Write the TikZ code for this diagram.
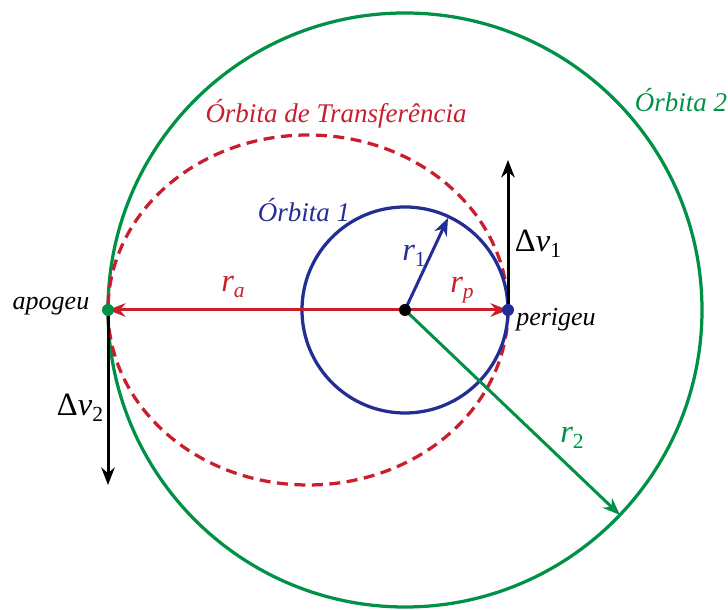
\documentclass[tikz,border=0pt]{standalone}
\usepackage{fontspec}
\setmainfont{Liberation Serif}
\usetikzlibrary{arrows.meta,calc}
\definecolor{orbgreen}{RGB}{0,145,70}
\definecolor{orbred}{RGB}{200,30,45}
\definecolor{orbblue}{RGB}{35,45,150}
\newcommand{\idx}[1]{\raisebox{-0.4ex}{\fontsize{8.6}{9}\selectfont #1}}

\begin{document}
\begin{tikzpicture}[>={Stealth[length=7pt,width=5.4pt]}, line cap=round, line join=round, x=0.4pt, y=-0.4pt]
\tikzset{
  orb1/.style={orbblue, line width=1.3pt},
  orb2/.style={orbgreen, line width=1.3pt},
  orbT/.style={orbred, line width=1.3pt, dash pattern=on 4.4pt off 2.6pt, line cap=butt},
  rad/.style={->, line width=1.2pt},
  dv/.style={->, black, line width=1.2pt},
  pt/.style={circle, fill, inner sep=0pt, minimum size=4.8pt},
  lab/.style={font=\fontsize{10.8}{12}\itshape},
  place/.style={font=\fontsize{10.4}{12}\itshape, text=black},
  sym/.style={font=\fontsize{13}{15}\selectfont},
}
\useasboundingbox (0,0) rectangle (728,610);

\coordinate (O) at (405,310);
\coordinate (A) at (108,310);
\coordinate (P) at (508,310);
\coordinate (E) at (308,310);
\coordinate (R1) at (448,218);
\coordinate (R2) at (620,515);
\coordinate (V1) at (508,160);
\coordinate (V2) at (108,485);

% orbits
\draw[orb2] (O) circle[radius=297];
\draw[orbT] (E) ellipse[x radius=200, y radius=175];
\draw[orb1] (O) circle[radius=103];

% radii
\draw[rad, orbred] (O) -- (A);
\draw[rad, orbred] (O) -- (P);
\draw[rad, orbblue] (O) -- (R1);
\draw[rad, orbgreen] (O) -- (R2);

% impulses
\draw[dv] (P) -- (V1);
\draw[dv] (A) -- (V2);

\node[pt, black] (o) at (O) {};
\node[pt, orbgreen] (apo) at (A) {};
\node[pt, orbblue] (peri) at (P) {};

\node[lab, text=orbgreen] (l2) at (681,100) {Órbita 2};
\node[lab, text=orbred] (lT) at (336,114) {Órbita de Transferência};
\node[lab, text=orbblue] (l1) at (304,210) {Órbita 1};

\node[place] (lapo) at (51,306) {apogeu};
\node[place] (lperi) at (556,320) {perigeu};

\node[sym, text=orbred] (lra) at (233,287) {\textit{r}\idx{\textit{a}}};
\node[sym, text=orbred] (lrp) at (462,290) {\textit{r}\idx{\textit{p}}};
\node[sym, text=orbblue] (lr1) at (414,256) {\textit{r}\idx{1}};
\node[sym, text=orbgreen] (lr2) at (572,438) {\textit{r}\idx{2}};
\node[sym] (ldv1) at (538,244) {Δ\textit{v}\idx{1}};
\node[sym] (ldv2) at (80,408) {Δ\textit{v}\idx{2}};
\end{tikzpicture}
\end{document}
